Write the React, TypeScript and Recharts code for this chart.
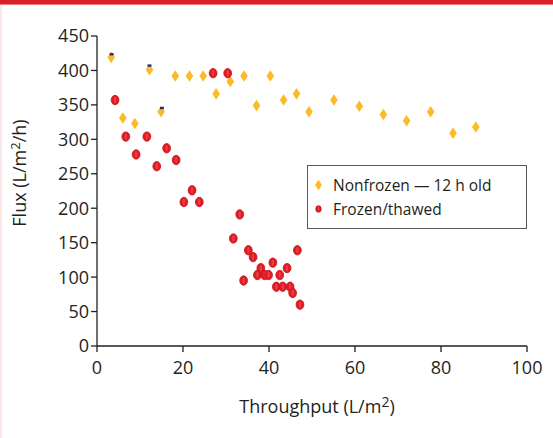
import { ScatterChart, Scatter, XAxis, YAxis, Legend, Label } from "recharts";

// Nonfrozen — 12 h old (yellow diamonds)
const nonfrozenX = [3.3, 12.2, 6.0, 8.8, 14.9, 18.2, 21.5, 24.7, 27.7, 31.0, 34.2, 37.1, 40.3, 43.4, 46.4, 49.3, 55.1, 61.0, 66.6, 72.0, 77.6, 82.8, 88.1];
const nonfrozenY = [419, 401, 331, 323, 340, 392, 392, 392, 366, 384, 392, 349, 392, 357, 366, 340, 357, 348, 336, 327, 340, 309, 318];

// Frozen/thawed (red dots)
const frozenX = [4.2, 6.7, 9.1, 11.6, 13.9, 16.2, 18.4, 22.1, 20.2, 23.8, 27.0, 30.4, 33.2, 31.7, 35.2, 36.3, 34.1, 38.1, 37.3, 39.0, 39.9, 40.9, 42.5, 44.2, 41.7, 43.2, 44.9, 45.5, 46.6, 47.2];
const frozenY = [357, 304, 278, 304, 261, 287, 270, 226, 209, 209, 396, 396, 191, 156, 139, 129, 95, 113, 103, 103, 103, 121, 103, 113, 86, 86, 86, 77, 139, 60];

// small navy marks peeking above three diamonds
const freshX = [3.4, 12.2, 15.1];
const freshY = [423.5, 407, 345.5];

const xTicks = [0, 20, 40, 60, 80, 100];
const yTicks = [0, 50, 100, 150, 200, 250, 300, 350, 400, 450];

const legendOrder = ["Nonfrozen — 12 h old", "Frozen/thawed"];

const zip = (xs: number[], ys: number[]) => xs.map((x, i) => ({ x, y: ys[i] }));

const FONT = "'Open Sans', 'Noto Sans', sans-serif";
const INK = "#231f20";
const YELLOW = "#fdb927";
const RED = "#e21b24";

const Diamond = ({ cx, cy, s = 1 }: any) => (
  <path
    d={`M${cx},${cy - 5.8 * s} L${cx + 3.8 * s},${cy} L${cx},${cy + 5.8 * s} L${cx - 3.8 * s},${cy} Z`}
    fill={YELLOW}
  />
);

const Dot = ({ cx, cy, s = 1 }: any) => (
  <g>
    <ellipse cx={cx} cy={cy} rx={3.9 * s} ry={4.7 * s} fill={RED} stroke="#c3151d" strokeWidth={0.8} />
    <ellipse cx={cx} cy={cy} rx={1.1 * s} ry={3.2 * s} fill="#ea4048" />
  </g>
);

const Dash = ({ cx, cy }: any) => <rect x={cx - 2} y={cy - 1.2} width={4} height={2.4} fill="#2e2d6e" />;

const XTitle = ({ viewBox }: any) => (
  <text x={viewBox.x + viewBox.width / 2 + 5} y={viewBox.y + 67} textAnchor="middle" fontSize={18} fill={INK} fontFamily={FONT}>
    Throughput (L/m<tspan dy={-6} fontSize={14}>2</tspan><tspan dy={6}>)</tspan>
  </text>
);

const YTitle = ({ viewBox }: any) => (
  <text
    transform={`translate(26, ${viewBox.y + 137}) rotate(-90)`}
    textAnchor="middle"
    fontSize={18}
    fill={INK}
    fontFamily={FONT}
  >
    Flux (L/m<tspan dy={-6} fontSize={13}>2</tspan><tspan dy={6}>/h)</tspan>
  </text>
);

const LegendBox = ({ payload }: any) => {
  const items = legendOrder
    .map((name) => (payload || []).find((p: any) => p.value === name))
    .filter(Boolean);
  return (
    <div
      style={{
        border: "1px solid #58585a",
        background: "#fff",
        width: 220,
        height: 64,
        boxSizing: "border-box",
        paddingTop: 7,
        fontFamily: FONT,
        fontSize: 15.5,
        color: INK,
      }}
    >
      {items.map((entry: any) => (
        <div key={entry.value} style={{ display: "flex", alignItems: "center", height: 24 }}>
          <svg width={21} height={14} style={{ marginRight: 4 }}>
            {entry.value === legendOrder[0] ? <Diamond cx={10.5} cy={7} s={0.9} /> : <Dot cx={10.5} cy={7} s={0.7} />}
          </svg>
          <span>{entry.value}</span>
        </div>
      ))}
    </div>
  );
};

export default function App() {
  return (
    <div style={{ position: "relative", width: 553, height: 438, background: "#fff", fontFamily: FONT }}>
      <style>{`body{margin:0}`}</style>
      <div style={{ position: "absolute", left: 0, top: 0, width: 553, height: 4, background: "#d81e28" }} />
      <div style={{ position: "absolute", left: 0, top: 4, width: 553, height: 1, background: "#ec7a7f" }} />
      <div style={{ position: "absolute", left: 0, top: 5, width: 2, height: 433, background: "#fbe8e8" }} />
      <ScatterChart width={553} height={438} margin={{ top: 36, right: 26, bottom: 0, left: 0 }}>
        <XAxis
          type="number"
          dataKey="x"
          domain={[0, 100]}
          ticks={xTicks}
          interval={0}
          height={92}
          tickSize={6}
          tickMargin={9}
          stroke={INK}
          strokeWidth={1.3}
          tick={{ fill: INK, fontSize: 18, fontFamily: FONT }}
        >
          <Label content={<XTitle />} />
        </XAxis>
        <YAxis
          type="number"
          dataKey="y"
          domain={[0, 450]}
          ticks={yTicks}
          interval={0}
          width={97}
          tickSize={6}
          tickMargin={2}
          stroke={INK}
          strokeWidth={1.3}
          tick={{ fill: INK, fontSize: 18, fontFamily: FONT }}
        >
          <Label content={<YTitle />} />
        </YAxis>
        <Legend
          layout="horizontal"
          verticalAlign="middle"
          align="center"
          content={<LegendBox />}
          wrapperStyle={{ left: 307, top: 165, width: 220 }}
        />
        <Scatter name="Nonfrozen — 12 h old" data={zip(nonfrozenX, nonfrozenY)} fill={YELLOW} shape={<Diamond />} isAnimationActive={false} />
        <Scatter name="Frozen/thawed" data={zip(frozenX, frozenY)} fill={RED} shape={<Dot />} isAnimationActive={false} />
        <Scatter name="fresh" data={zip(freshX, freshY)} fill="#2e2d6e" shape={<Dash />} legendType="none" isAnimationActive={false} />
      </ScatterChart>
    </div>
  );
}
